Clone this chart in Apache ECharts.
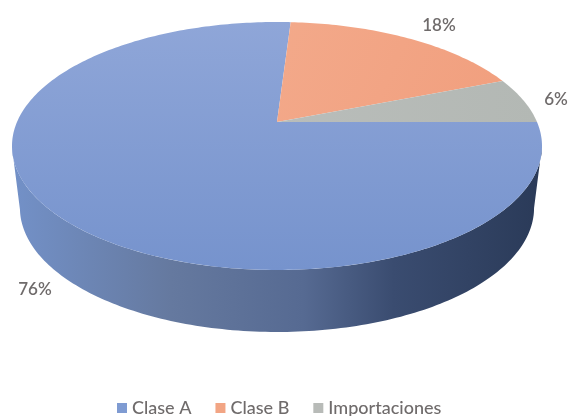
<!DOCTYPE html>
<html>
<head>
<meta charset="utf-8">
<style>html,body{margin:0;padding:0;background:#fff}#c{width:571px;height:416px}</style>
<script src="https://cdn.jsdelivr.net/npm/echarts@6/dist/echarts.min.js"></script>
</head>
<body>
<div id="c"></div>
<script>
// Data
var categories = ['Clase A', 'Clase B', 'Importaciones'];
var shares = [76, 18, 6];

// Drawing settings
var textColor = '#6f6b6b';
var labelAnchors = [[35, 290], [439, 26], [556, 100]];
var sliceFills = [
  {type:'linear',x:0,y:0,x2:0,y2:1,colorStops:[{offset:0,color:'#8fa6d8'},{offset:1,color:'#7693cd'}]},
  {type:'linear',x:0,y:0,x2:1,y2:1,colorStops:[{offset:0,color:'#f3a98a'},{offset:1,color:'#f19f7e'}]},
  {type:'linear',x:0,y:0,x2:1,y2:0,colorStops:[{offset:0,color:'#b9bdba'},{offset:1,color:'#b3b8b4'}]}
];
var legendColors = ['#7f9bd2', '#f2a584', '#b8bbb8'];
var wallFill = {type:'linear',x:0,y:0,x2:1,y2:0,colorStops:[
  {offset:0,color:'#7391c8'},{offset:0.3,color:'#65799f'},{offset:0.55,color:'#566a92'},
  {offset:0.72,color:'#3a4c70'},{offset:1,color:'#2a3a58'}]};

// Perspective view of the disc
var apexX = 277, apexY = 122;
var scaleX = 260, scaleY = 119.35, persp = 0.1935;
var depth = 62, bottomScale = 0.97;
var startDeg = 90;

function project(deg, r) {
  var a = deg * Math.PI / 180;
  var u = r * Math.sin(a), v = r * Math.cos(a);
  var d = 1 + persp * v;
  return [apexX + scaleX * u / d, apexY - scaleY * v / d];
}
function sliceStart(i) {
  var total = shares.reduce(function (s, x) { return s + x; }, 0), sum = 0;
  for (var k = 0; k < i; k++) sum += shares[k];
  return startDeg + sum / total * 360;
}
function facePoints(i) {
  var a0 = sliceStart(i), a1 = sliceStart(i + 1), pts = [project(0, 0)];
  for (var a = a0; a < a1; a += 1) pts.push(project(a, 1));
  pts.push(project(a1, 1));
  return pts;
}
function wallPoints() {
  // the visible front rim runs between the two widest points of the ellipse
  var tangent = Math.acos(-persp) * 180 / Math.PI;
  var top = [], bottom = [];
  for (var a = tangent; a <= 360 - tangent + 0.01; a += 1) {
    var p = project(a, 1);
    top.push(p);
    bottom.push([apexX + (p[0] - apexX) * bottomScale, p[1] + depth]);
  }
  return top.concat(bottom.reverse());
}
function renderSlice(params, api) {
  var i = params.seriesIndex;
  var children = [];
  if (i === 0) {
    children.push({type:'polygon', shape:{points:wallPoints()}, style:{fill:wallFill}});
  }
  children.push({type:'polygon', shape:{points:facePoints(i)}, style:{fill:sliceFills[i]}});
  children.push({type:'text', z2:10, style:{
    x: labelAnchors[i][0], y: labelAnchors[i][1],
    text: api.value(0) + '%', fill: textColor,
    font: '600 17px Lato, "Open Sans", sans-serif',
    align: 'center', verticalAlign: 'middle'
  }});
  return {type:'group', children: children};
}

var chart = echarts.init(document.getElementById('c'), null, {renderer:'canvas'});
chart.setOption({
  animation: false,
  backgroundColor: '#fff',
  legend: {
    data: categories,
    left: 112, top: 394,
    icon: 'rect',
    itemWidth: 10, itemHeight: 10, itemGap: 24,
    textStyle: {color: textColor, fontSize: 18, fontFamily: 'Lato, "Open Sans", sans-serif', fontWeight: 500},
    selectedMode: false
  },
  series: categories.map(function (name, i) {
    return {
      type: 'custom', name: name, coordinateSystem: 'none',
      renderItem: renderSlice, silent: true,
      itemStyle: {color: legendColors[i]},
      data: [[shares[i]]]
    };
  })
});
</script>
</body>
</html>
